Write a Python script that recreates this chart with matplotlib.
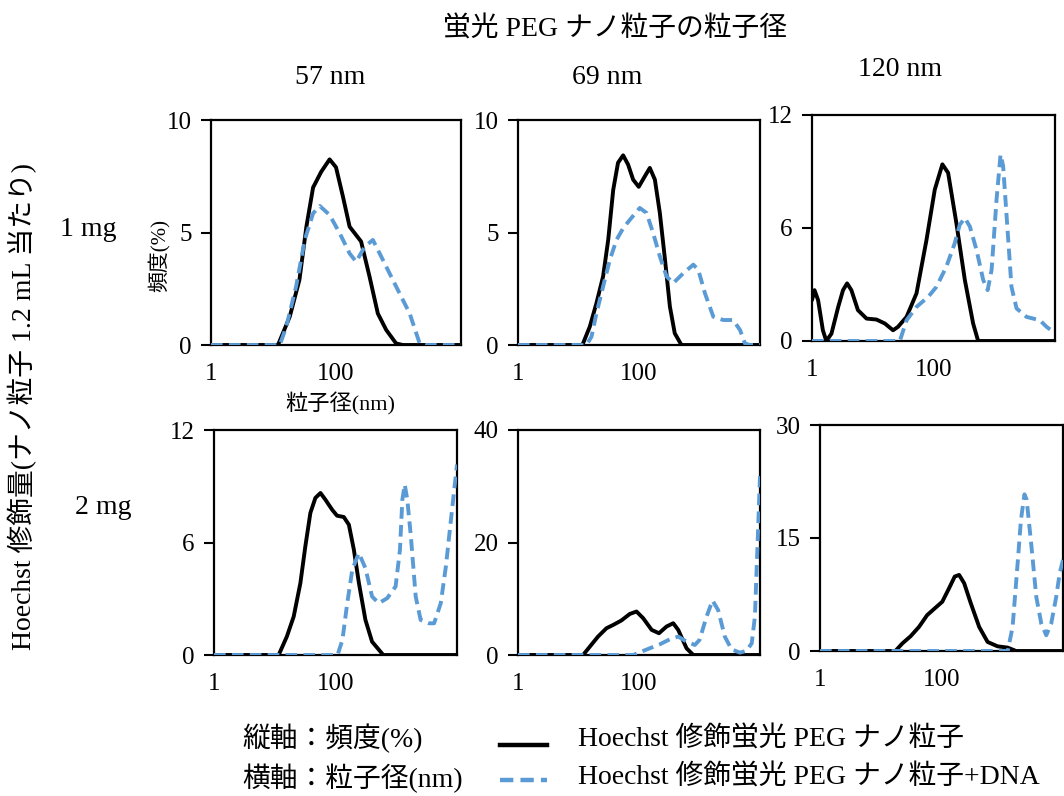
import matplotlib
matplotlib.use('Agg')
import matplotlib.pyplot as plt
from matplotlib.lines import Line2D

plt.rcParams['font.family'] = ['Liberation Serif', 'Noto Sans CJK JP']

# panel data: particle diameter (nm) / frequency (%)
# 57 nm, 1 mg
a_x_np = [1, 11.8, 18.2, 26, 33.6, 43, 58, 79, 100, 129, 165, 252, 344, 467, 636, 915, 1170, 10000]
a_y_np = [0, 0, 1.26, 2.9, 5.26, 7.0, 7.7, 8.25, 7.9, 6.6, 5.26, 4.6, 3.04, 1.4, 0.67, 0.07, 0, 0]
a_x_dna = [1, 12.6, 16, 23, 31.6, 43, 55, 79, 115, 165, 210, 288, 389, 563, 916, 1510, 2180, 2750, 10000]
a_y_dna = [0, 0, 0.81, 2.6, 4.67, 5.85, 6.18, 5.78, 4.96, 4.07, 3.7, 4.37, 4.67, 3.78, 2.6, 1.4, 0.07, 0, 0]

# 69 nm, 1 mg
b_x_np = [1, 11.6, 15.4, 19.8, 25.5, 31, 37.5, 45, 54.7, 66, 80, 99, 125, 151, 183, 221, 269, 324, 390, 503, 10000]
b_y_np = [0, 0, 0.82, 1.86, 3.05, 4.68, 6.9, 8.1, 8.43, 8.02, 7.35, 7.03, 7.5, 7.87, 7.35, 5.87, 3.79, 1.71, 0.52, 0, 0]
b_x_dna = [1, 13.5, 16.4, 19.8, 25.5, 33, 42.6, 55, 75, 103, 133, 171, 221, 285, 368, 540, 790, 955,
           1230, 1690, 2470, 3600, 4670, 5640, 6800, 10000]
b_y_dna = [0, 0, 0.37, 1.41, 2.6, 3.79, 4.68, 5.2, 5.65, 6.09, 5.87, 4.98, 3.94, 3.05, 2.75, 3.19, 3.57, 3.34,
           2.3, 1.26, 1.11, 1.11, 0.67, 0.07, 0, 0]

# 120 nm, 1 mg
c_x_np = [1, 1.1, 1.26, 1.51, 1.72, 2.09, 2.7, 3.24, 3.78, 4.45, 5.7, 7.9, 11.5, 15.8, 21.6, 26, 36, 52.5,
          76.7, 105, 140, 174, 238, 328, 449, 543, 10000]
c_y_np = [2.17, 2.7, 2.17, 0.57, 0, 0.39, 1.81, 2.7, 3.06, 2.7, 1.64, 1.19, 1.14, 0.93, 0.57, 0.75, 1.28, 2.53,
          5.37, 8.04, 9.38, 8.93, 6.26, 3.24, 0.93, 0, 0]
c_x_dna = [1, 27.9, 36, 52.5, 82, 112, 163, 224, 270, 328, 397, 510, 658, 779, 904, 1090, 1270, 1400, 1600,
           1920, 2330, 3400, 5640, 7280, 10000]
c_y_dna = [0, 0, 1.1, 1.81, 2.35, 2.88, 3.95, 5.2, 6.17, 6.53, 6.08, 4.84, 3.24, 2.7, 3.77, 7.5, 9.9, 9.3, 6.6,
           2.88, 1.73, 1.28, 1.1, 0.75, 0.43]

# 57 nm, 2 mg
d_x_np = [1, 11.6, 15.8, 20.5, 26.4, 31.9, 38.6, 46.7, 56.6, 68, 88, 106, 137, 166, 201, 243, 311, 400, 611, 10000]
d_y_np = [0, 0, 0.98, 2.05, 3.83, 5.8, 7.58, 8.38, 8.64, 8.29, 7.75, 7.43, 7.36, 6.95, 5.6, 3.83, 1.87, 0.71, 0, 0]
d_x_dna = [1, 108, 130, 156, 189, 242, 311, 400, 515, 710, 975, 1150, 1260, 1380, 1520, 1740, 2090, 2520,
           3470, 4200, 5400, 6560, 7950, 10000]
d_y_dna = [0, 0, 0.8, 2.76, 4.55, 5.44, 4.63, 3.12, 2.76, 3.03, 3.65, 5.6, 8.29, 9.09, 8.29, 6.33, 3.12, 1.87,
           1.69, 1.69, 2.76, 4.72, 7.22, 10.16]

# 69 nm, 2 mg
e_x_np = [1, 11.9, 15.4, 21, 29, 37.5, 51, 70.5, 91, 117, 162, 214, 285, 368, 445, 611, 790, 10000]
e_y_np = [0, 0, 1.49, 3.27, 4.76, 5.35, 6.13, 7.3, 7.73, 6.55, 4.46, 3.87, 5.06, 5.65, 4.46, 1.19, 0, 0]
e_x_dna = [1, 80, 110, 150, 221, 324, 445, 611, 837, 1000, 1310, 1640, 2030, 2620, 3390, 4670, 6000, 7300,
           8240, 9130, 10000]
e_y_dna = [0, 0, 0.6, 1.19, 1.9, 2.8, 3.27, 2.38, 1.78, 2.67, 6.84, 9.7, 8.0, 3.27, 1.0, 0.42, 0.77, 2.08,
           6.84, 19.9, 31.8]

# 120 nm, 2 mg
f_x_np = [1, 17.4, 22.5, 31, 42.6, 58, 75, 103, 133, 165, 195, 236, 304, 417, 574, 837, 1230, 1690, 10000]
f_y_np = [0, 0, 0.98, 1.96, 3.2, 4.76, 5.56, 6.54, 8.32, 9.88, 10.1, 9.0, 6.32, 3.2, 1.2, 0.62, 0.45, 0, 0]
f_x_dna = [1, 1230, 1480, 1810, 2030, 2320, 2520, 2990, 3630, 4390, 5300, 6400, 7740, 8810, 10000]
f_y_dna = [0, 0, 3.2, 12.1, 17.4, 20.8, 20.1, 14.3, 7.2, 3.65, 2.09, 3.65, 7.2, 10.3, 12.1]

panels = [
    (a_x_np, a_y_np, a_x_dna, a_y_dna, [0, 5, 10], (211, 120, 461, 345)),
    (b_x_np, b_y_np, b_x_dna, b_y_dna, [0, 5, 10], (518, 120, 760, 345)),
    (c_x_np, c_y_np, c_x_dna, c_y_dna, [0, 6, 12], (812, 115, 1055, 341)),
    (d_x_np, d_y_np, d_x_dna, d_y_dna, [0, 6, 12], (214, 430, 457, 655)),
    (e_x_np, e_y_np, e_x_dna, e_y_dna, [0, 20, 40], (518, 430, 760, 655)),
    (f_x_np, f_y_np, f_x_dna, f_y_dna, [0, 15, 30], (820, 425, 1063, 651)),
]

W, H = 1064, 796
blue = '#5B9BD5'
big = 20
fig = plt.figure(figsize=(W / 100, H / 100), dpi=100)

for xn, yn, xd, yd, yt, (l, t, r, b) in panels:
    ax = fig.add_axes([l / W, 1 - b / H, (r - l) / W, (b - t) / H])
    ax.plot(xn, yn, color='black', lw=2.8, solid_joinstyle='round', solid_capstyle='round', zorder=3)
    ax.plot(xd, yd, color=blue, lw=2.8, linestyle=(0, (3, 1.6)), zorder=4)
    ax.set_xscale('log')
    ax.set_xlim(1, 10000)
    ax.set_ylim(yt[0], yt[-1])
    ax.set_yticks(yt)
    ax.set_xticks([1, 100])
    ax.set_xticklabels(['1', '100'])
    ax.xaxis.set_minor_locator(matplotlib.ticker.NullLocator())
    ax.tick_params(axis='x', length=0, pad=13, labelsize=18)
    ax.tick_params(axis='y', length=7, width=1.5, pad=7, labelsize=18, direction='out')
    for s in ax.spines.values():
        s.set_linewidth(1.6)
    if l == 211:
        fig.text(160 / W, 1 - 255 / H, '頻度(%)', rotation=90, ha='center', va='center', fontsize=15)
        fig.text(340 / W, 1 - 404 / H, '粒子径(nm)', ha='center', va='center', fontsize=16)

fig.text(615 / W, 1 - 30 / H, '蛍光 PEG ナノ粒子の粒子径', ha='center', va='center', fontsize=big)
fig.text(330 / W, 1 - 78 / H, '57 nm', ha='center', va='center', fontsize=big)
fig.text(607 / W, 1 - 78 / H, '69 nm', ha='center', va='center', fontsize=big)
fig.text(900 / W, 1 - 70 / H, '120 nm', ha='center', va='center', fontsize=big)
fig.text(88 / W, 1 - 230 / H, '1 mg', ha='center', va='center', fontsize=big)
fig.text(103 / W, 1 - 508 / H, '2 mg', ha='center', va='center', fontsize=big)
fig.text(22 / W, 1 - 407 / H, 'Hoechst 修飾量(ナノ粒子 1.2 mL 当たり)', rotation=90,
         ha='center', va='center', fontsize=big)

# bottom key
fig.text(242 / W, 1 - 738 / H, '縦軸：頻度(%)', ha='left', va='center', fontsize=big)
fig.text(242 / W, 1 - 778 / H, '横軸：粒子径(nm)', ha='left', va='center', fontsize=big)
fig.add_artist(Line2D([500 / W, 547 / W], [1 - 745 / H, 1 - 745 / H], color='black', lw=3.2))
fig.add_artist(Line2D([500 / W, 547 / W], [1 - 780 / H, 1 - 780 / H], color=blue, lw=3.2,
                      linestyle=(0, (3, 1.6))))
fig.text(578 / W, 1 - 740 / H, 'Hoechst 修飾蛍光 PEG ナノ粒子', ha='left', va='center', fontsize=big)
fig.text(578 / W, 1 - 778 / H, 'Hoechst 修飾蛍光 PEG ナノ粒子+DNA', ha='left', va='center', fontsize=big)

fig.savefig('out.png', dpi=100)
